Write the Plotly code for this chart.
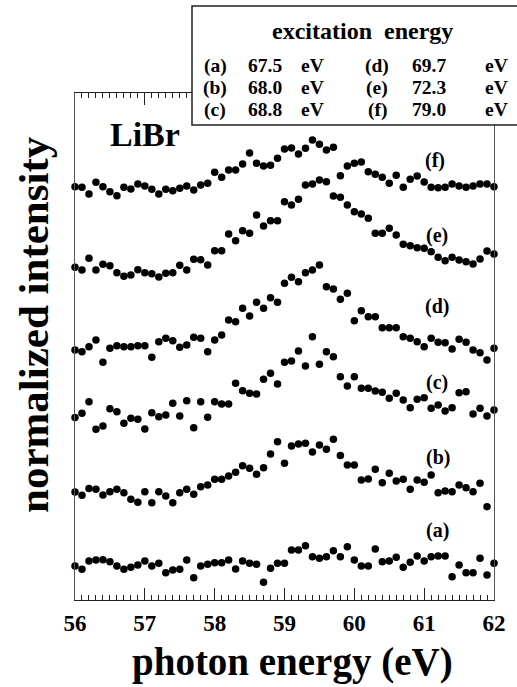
import plotly.graph_objects as go

# ---------------- data ----------------
energy = [round(56.0 + 0.1 * i, 1) for i in range(61)]  # photon energy grid (eV)

series_a = [3.40, 3.07, 3.90, 4.00, 4.03, 3.83, 3.40, 3.07, 3.27, 3.50,
            3.90, 3.40, 3.67, 2.73, 3.00, 3.08, 4.00, 2.23, 3.40, 3.57,
            3.73, 3.73, 4.00, 3.10, 3.90, 3.67, 3.57, 1.77, 3.17, 3.67,
            3.67, 5.00, 5.00, 5.43, 4.33, 4.17, 4.33, 4.93, 4.33, 5.33,
            4.00, 3.40, 3.40, 5.10, 3.83, 3.90, 4.27, 3.27, 3.77, 4.40,
            3.90, 4.33, 4.40, 4.40, 2.33, 3.50, 2.73, 2.73, 4.17, 2.50,
            3.67]
series_b = [10.80, 10.47, 11.15, 11.07, 10.50, 10.83, 11.07, 10.73, 10.07, 9.77,
            10.83, 9.73, 10.83, 10.40, 9.73, 10.73, 11.07, 10.57, 11.33, 11.50,
            12.07, 12.07, 12.40, 12.77, 13.43, 13.17, 12.57, 13.23, 14.60, 15.83,
            13.67, 15.40, 15.60, 15.67, 14.80, 15.50, 15.07, 16.07, 14.45, 13.50,
            13.50, 12.00, 12.10, 13.07, 11.73, 12.67, 11.90, 12.07, 11.07, 12.00,
            11.77, 12.50, 10.73, 10.90, 10.83, 11.50, 11.23, 10.83, 11.67, 9.33,
            None]
series_c = [18.24, 18.67, 19.83, 17.07, 17.40, 19.13, 18.83, 17.67, 18.17, 18.07,
            17.10, 18.73, 18.33, 18.50, 19.67, 18.40, 19.93, 17.23, 19.83, 18.27,
            19.83, 19.60, 19.60, 21.67, 20.93, 20.67, 20.60, 22.07, 22.67, 21.60,
            23.77, 23.90, 24.90, 23.40, 26.33, 23.57, 24.83, 24.33, 22.33, 21.40,
            22.33, 21.17, 21.17, 20.90, 20.77, 20.17, 20.67, 20.00, 19.23, 20.07,
            20.23, 19.17, 19.50, 18.90, 19.23, 20.73, 20.83, 18.60, 19.17, 18.40,
            19.00]
series_d = [25.00, 24.83, 25.33, 26.00, 23.77, 25.17, 25.43, 25.33, 25.33, 25.43,
            25.43, 24.27, 25.83, 26.17, 25.93, 25.27, 25.50, 26.27, 26.17, 24.83,
            26.00, 26.50, 28.00, 27.83, 29.17, 28.40, 29.77, 29.17, 30.23, 29.77,
            31.67, 32.27, 31.83, 32.73, 33.00, 33.50, 31.33, 31.10, 30.07, 30.67,
            27.93, 28.93, 28.33, 28.33, 27.23, 27.23, 27.23, 26.33, 26.17, 25.83,
            25.33, 26.17, 25.77, 25.73, 25.10, 26.07, 25.77, 25.00, 24.73, 24.00,
            25.17]
series_e = [33.27, 33.00, 34.17, 33.00, 33.57, 33.43, 32.73, 32.37, 32.50, 33.03,
            32.73, 32.63, 32.30, 32.67, 32.73, 33.47, 33.00, 34.07, 34.03, 33.50,
            34.93, 34.93, 36.60, 35.93, 36.93, 36.67, 38.50, 37.40, 37.93, 37.93,
            39.83, 39.50, 40.07, 41.50, 41.60, 42.00, 41.83, 40.40, 40.27, 39.50,
            38.83, 38.60, 38.17, 36.67, 36.67, 37.17, 36.50, 35.57, 35.43, 35.23,
            35.17, 34.83, 34.27, 33.93, 34.27, 34.00, 33.83, 33.60, 34.10, 34.90,
            34.60]
series_f = [41.33, 41.27, 40.60, 41.77, 41.33, 40.83, 40.43, 41.27, 41.10, 41.60,
            41.40, 41.07, 40.60, 41.07, 40.93, 41.17, 41.40, 41.00, 41.50, 41.67,
            42.77, 42.27, 43.00, 43.00, 43.60, 44.70, 43.67, 43.40, 43.47, 44.17,
            45.10, 45.20, 44.60, 45.17, 46.00, 45.57, 45.00, 45.27, 42.43, 43.40,
            43.67, 43.80, 42.83, 42.57, 42.27, 41.67, 42.47, 41.27, 42.07, 42.40,
            41.80, 41.27, 41.23, 41.27, 41.60, 41.40, 41.27, 41.40, 41.60, 41.60,
            41.33]

series_names = ["(a)", "(b)", "(c)", "(d)", "(e)", "(f)"]
series_values = [series_a, series_b, series_c, series_d, series_e, series_f]

tick_values = [56, 57, 58, 59, 60, 61, 62]
tick_labels = ["56", "57", "58", "59", "60", "61", "62"]

legend_title = "excitation  energy"
legend_rows = [("(a)", "67.5", "eV", "(d)", "69.7", "eV"),
               ("(b)", "68.0", "eV", "(e)", "72.3", "eV"),
               ("(c)", "68.8", "eV", "(f)", "79.0", "eV")]

# ---------------- layout geometry (pixels) ----------------
W, H = 517, 687
L, R, T, B = 75, 23, 93, 87
PW, PH = W - L - R, H - T - B
SERIF = "Liberation Serif, Times New Roman, serif"


def px(x):
    return (x - L) / PW


def py(y):
    return (H - B - y) / PH


fig = go.Figure()
for name, vals in zip(series_names, series_values):
    fig.add_trace(go.Scatter(x=energy, y=vals, mode="markers", name=name,
                             marker=dict(color="black", size=7.5),
                             cliponaxis=False, showlegend=False))

annotations = []
# series labels
label_pos = {"(f)": (435, 160), "(e)": (437, 235), "(d)": (437, 306),
             "(c)": (437, 382), "(b)": (438, 457), "(a)": (437, 530)}
for name in series_names:
    x0, y0 = label_pos[name]
    annotations.append(dict(x=px(x0), y=py(y0), xref="paper", yref="paper",
                            text=name, showarrow=False,
                            font=dict(family=SERIF, size=20, color="black", weight="bold"),
                            xanchor="center", yanchor="middle"))
# LiBr
annotations.append(dict(x=px(145), y=py(134), xref="paper", yref="paper", text="LiBr",
                        showarrow=False, xanchor="center", yanchor="middle",
                        font=dict(family=SERIF, size=34, color="black", weight="bold")))
# axis titles
annotations.append(dict(x=px(292), y=py(662), xref="paper", yref="paper",
                        text="photon energy (eV)", showarrow=False,
                        xanchor="center", yanchor="middle",
                        font=dict(family=SERIF, size=39, color="black", weight="bold")))
annotations.append(dict(x=px(33), y=py(325), xref="paper", yref="paper",
                        text="normalized intensity", showarrow=False, textangle=-90,
                        xanchor="center", yanchor="middle",
                        font=dict(family=SERIF, size=43, color="black", weight="bold")))
# legend box texts
annotations.append(dict(x=px(362), y=py(31), xref="paper", yref="paper",
                        text=legend_title, showarrow=False,
                        xanchor="center", yanchor="middle",
                        font=dict(family=SERIF, size=24, color="black", weight="bold")))
col_x = [215, 265, 312, 377, 429, 496]
row_y = [65.5, 87.5, 109.5]
for r, row in enumerate(legend_rows):
    for c, txt in enumerate(row):
        annotations.append(dict(x=px(col_x[c]), y=py(row_y[r]), xref="paper", yref="paper",
                                text=txt, showarrow=False, borderpad=0,
                                xanchor="center", yanchor="middle",
                                font=dict(family=SERIF, size=19.5, color="black", weight="bold")))

shapes = [dict(type="rect", xref="paper", yref="paper", layer="above",
               x0=px(192), x1=px(540), y0=py(125), y1=py(6),
               fillcolor="white", line=dict(color="#222", width=1.5))]

fig.update_layout(
    width=W, height=H,
    margin=dict(l=L, r=R, t=T, b=B, pad=0),
    paper_bgcolor="white", plot_bgcolor="white",
    showlegend=False,
    annotations=annotations,
    shapes=shapes,
    xaxis=dict(range=[56, 62], tickvals=tick_values, ticktext=tick_labels,
               showgrid=False, zeroline=False,
               showline=True, linecolor="#222", linewidth=1.2, mirror="ticks",
               ticks="inside", ticklen=12, tickwidth=1.2, tickcolor="#222",
               minor=dict(dtick=0.1, ticks="inside", ticklen=5, tickwidth=1, tickcolor="#222"),
               tickfont=dict(family=SERIF, size=23, color="black", weight="bold"),
               ticklabelstandoff=2),
    yaxis=dict(range=[0, PH / 10.0], showgrid=False, zeroline=False,
               showline=True, linecolor="#555", linewidth=1, mirror=True,
               ticks="", showticklabels=False),
)

fig.write_html("out.html")
